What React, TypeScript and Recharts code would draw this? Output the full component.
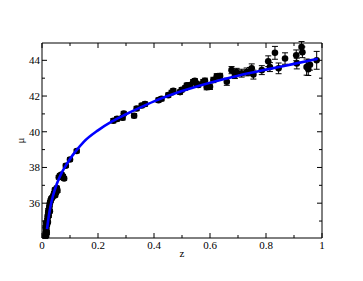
import React from 'react';
import { ComposedChart, Scatter, Line, XAxis, YAxis, ErrorBar } from 'recharts';

const pointZ = [
  0.012, 0.013, 0.014, 0.015, 0.016, 0.013, 0.017, 0.018, 0.015, 0.019,
  0.020, 0.021, 0.022, 0.023, 0.024, 0.026, 0.027, 0.029, 0.031, 0.028,
  0.033, 0.036, 0.040, 0.043, 0.046, 0.050, 0.053, 0.055, 0.047, 0.060,
  0.064, 0.070, 0.075, 0.079, 0.085, 0.100, 0.124,
  0.255, 0.268, 0.288, 0.292, 0.329, 0.338, 0.356, 0.368, 0.416, 0.427,
  0.451, 0.463, 0.469, 0.493, 0.499, 0.511, 0.517, 0.529, 0.540, 0.546,
  0.552, 0.558, 0.576, 0.582, 0.588, 0.600, 0.612, 0.624, 0.636, 0.660,
  0.677, 0.689, 0.695, 0.713, 0.731, 0.743, 0.749, 0.755, 0.785,
  0.808, 0.814, 0.832, 0.845, 0.868, 0.910, 0.908, 0.927, 0.930, 0.945,
  0.951, 0.957, 0.981,
];
const pointMu = [
  34.12, 34.28, 34.42, 34.18, 34.55, 34.65, 34.35, 34.8, 34.9, 35.05,
  35.25, 34.95, 35.45, 35.6, 35.3, 35.75, 35.9, 36.05, 36.15, 35.55,
  36.25, 36.3, 36.4, 36.55, 36.75, 36.6, 36.85, 36.7, 36.45, 37.45,
  37.55, 37.6, 37.5, 37.38, 38.1, 38.45, 38.92,
  40.62, 40.72, 40.78, 41.02, 40.9, 41.3, 41.47, 41.55, 41.77, 41.85,
  42.05, 42.2, 42.3, 42.22, 42.35, 42.45, 42.6, 42.62, 42.8, 42.85,
  42.7, 42.62, 42.78, 42.85, 42.5, 42.52, 42.9, 43.1, 43.12, 42.8,
  43.45, 43.18, 43.35, 43.28, 43.35, 43.38, 43.55, 43.2, 43.45,
  43.95, 43.62, 44.42, 43.55, 44.1, 43.82, 44.28, 44.75, 44.45, 43.62,
  43.5, 43.75, 44.0,
];
const pointErr = [
  0.1, 0.1, 0.1, 0.1, 0.1, 0.1, 0.1, 0.1, 0.1, 0.1,
  0.1, 0.1, 0.1, 0.1, 0.1, 0.1, 0.1, 0.1, 0.1, 0.1,
  0.1, 0.1, 0.1, 0.1, 0.1, 0.1, 0.1, 0.1, 0.1, 0.1,
  0.1, 0.1, 0.1, 0.1, 0.1, 0.1, 0.1,
  0.12, 0.12, 0.12, 0.12, 0.12, 0.12, 0.12, 0.12, 0.12, 0.12,
  0.12, 0.12, 0.12, 0.12, 0.12, 0.12, 0.12, 0.12, 0.12, 0.12,
  0.12, 0.12, 0.15, 0.15, 0.15, 0.15, 0.15, 0.15, 0.15, 0.2,
  0.2, 0.2, 0.2, 0.22, 0.22, 0.22, 0.25, 0.25, 0.25,
  0.3, 0.25, 0.36, 0.3, 0.32, 0.3, 0.3, 0.3, 0.3, 0.45,
  0.35, 0.3, 0.5,
];

const curveZ = [0.018, 0.02, 0.025, 0.03, 0.04, 0.05, 0.06, 0.07, 0.08, 0.1, 0.12, 0.15, 0.2, 0.25, 0.3, 0.35, 0.4, 0.5, 0.6, 0.7, 0.8, 0.9, 0.985];
const curveMu = [34.55, 34.8, 35.35, 35.8, 36.45, 36.95, 37.35, 37.7, 37.98, 38.48, 38.9, 39.45, 40.08, 40.58, 40.98, 41.35, 41.7, 42.28, 42.75, 43.14, 43.48, 43.8, 44.08];

const xTicks = [0, 0.1, 0.2, 0.3, 0.4, 0.5, 0.6, 0.7, 0.8, 0.9, 1];
const xTickLabels = ['0', '', '0.2', '', '0.4', '', '0.6', '', '0.8', '', '1'];
const yTicks = [35, 36, 37, 38, 39, 40, 41, 42, 43, 44];
const yTickLabels = ['', '36', '', '38', '', '40', '', '42', '', '44'];

const points = pointZ.map((z, i) => ({ z, mu: pointMu[i], err: pointErr[i] }));
const curve = curveZ.map((z, i) => ({ z, mu: curveMu[i] }));

const FONT = "'Liberation Serif', 'Times New Roman', serif";
const textStyle = { fontFamily: FONT, fontSize: 11 };
const MAJOR = 5;
const MINOR = 3;

const xLabel = (v: number) => xTickLabels[xTicks.indexOf(v)] ?? '';
const yLabel = (v: number) => yTickLabels[yTicks.indexOf(v)] ?? '';

const BottomTick = (p: any) => {
  const lab = xLabel(p.payload.value);
  const len = lab ? MAJOR : MINOR;
  return (
    <g>
      <line x1={p.x} y1={p.y} x2={p.x} y2={p.y - len} stroke="#000" />
      {lab && (
        <text x={p.x} y={p.y + 11} textAnchor="middle" style={textStyle} fill="#000">
          {lab}
        </text>
      )}
    </g>
  );
};
const TopTick = (p: any) => {
  const len = xLabel(p.payload.value) ? MAJOR : MINOR;
  return <line x1={p.x} y1={p.y} x2={p.x} y2={p.y + len} stroke="#000" />;
};
const LeftTick = (p: any) => {
  const lab = yLabel(p.payload.value);
  const len = lab ? MAJOR : MINOR;
  return (
    <g>
      <line x1={p.x} y1={p.y} x2={p.x + len} y2={p.y} stroke="#000" />
      {lab && (
        <text x={p.x - 2} y={p.y + 4} textAnchor="end" style={textStyle} fill="#000">
          {lab}
        </text>
      )}
    </g>
  );
};
const RightTick = (p: any) => {
  const len = yLabel(p.payload.value) ? MAJOR : MINOR;
  return <line x1={p.x} y1={p.y} x2={p.x - len} y2={p.y} stroke="#000" />;
};

const Dot = (p: any) => <circle cx={p.cx} cy={p.cy} r={3.3} fill="#000" />;

export default function App() {
  return (
    <ComposedChart width={340} height={264} margin={{ top: 34, right: 25, bottom: 4, left: 0 }} style={{ fontFamily: FONT }}>
      <XAxis
        xAxisId="b"
        type="number"
        dataKey="z"
        domain={[0, 1]}
        ticks={xTicks}
        interval={0}
        allowDataOverflow
        tickLine={false}
        tickSize={0}
        tickMargin={0}
        height={30}
        axisLine={{ stroke: '#000' }}
        tick={(p: any) => <BottomTick {...p} />}
        label={{ value: 'z', position: 'insideBottom', offset: 11, style: textStyle, fill: '#000' }}
      />
      <XAxis
        xAxisId="t"
        orientation="top"
        type="number"
        dataKey="z"
        domain={[0, 1]}
        ticks={xTicks}
        interval={0}
        allowDataOverflow
        tickLine={false}
        tickSize={0}
        tickMargin={0}
        height={1}
        axisLine={{ stroke: '#000' }}
        tick={(p: any) => <TopTick {...p} />}
      />
      <YAxis
        yAxisId="l"
        type="number"
        domain={[34.05, 44.97]}
        ticks={yTicks}
        interval={0}
        allowDataOverflow
        tickLine={false}
        tickSize={0}
        tickMargin={0}
        width={34}
        axisLine={{ stroke: '#000' }}
        tick={(p: any) => <LeftTick {...p} />}
        label={{ value: 'μ', angle: -90, position: 'center', dx: -5, style: textStyle, fill: '#000' }}
      />
      <YAxis
        yAxisId="r"
        orientation="right"
        type="number"
        domain={[34.05, 44.97]}
        ticks={yTicks}
        interval={0}
        allowDataOverflow
        tickLine={false}
        tickSize={0}
        tickMargin={0}
        width={1}
        axisLine={{ stroke: '#000' }}
        tick={(p: any) => <RightTick {...p} />}
      />
      <Scatter
        xAxisId="b"
        yAxisId="l"
        data={points}
        dataKey="mu"
        shape={(p: any) => <Dot {...p} />}
        isAnimationActive={false}
        zIndex={500}
      >
        <ErrorBar dataKey="err" direction="y" width={3} stroke="#000" strokeWidth={1} />
      </Scatter>
      <Line
        xAxisId="b"
        yAxisId="l"
        data={curve}
        dataKey="mu"
        type="monotone"
        stroke="#0000ff"
        strokeWidth={2.6}
        dot={false}
        activeDot={false}
        isAnimationActive={false}
        zIndex={1000}
      />
    </ComposedChart>
  );
}
